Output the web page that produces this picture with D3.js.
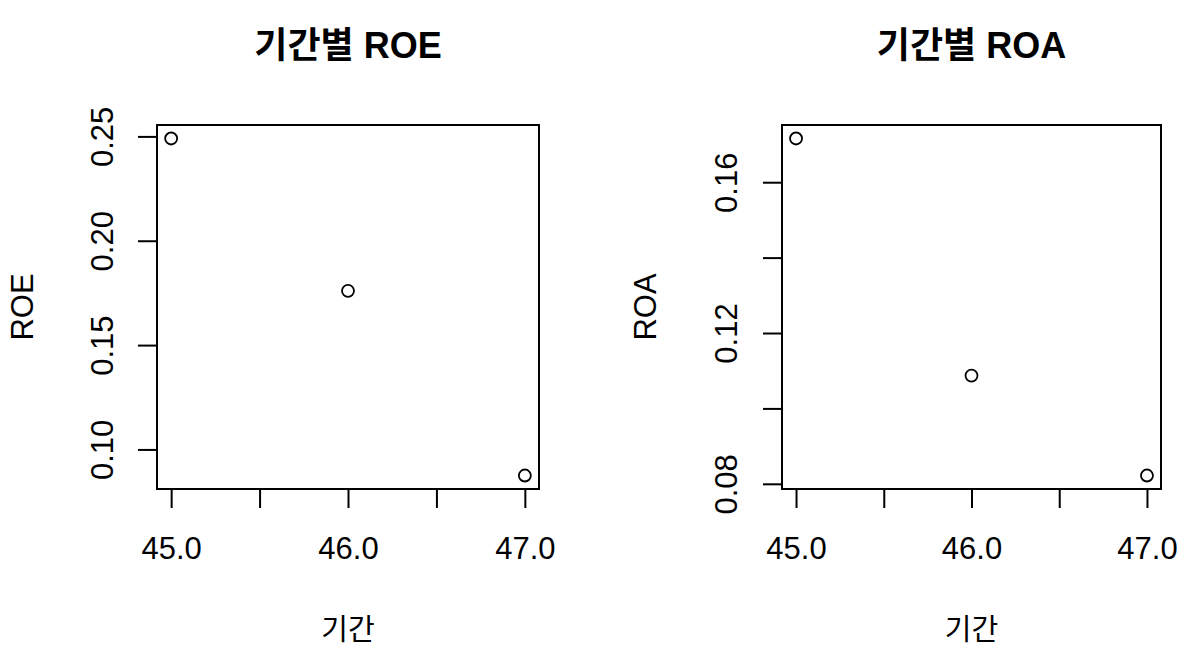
<!DOCTYPE html>
<html><head><meta charset="utf-8">
<script src="https://cdn.jsdelivr.net/npm/d3@7"></script>
<style>
html,body{margin:0;padding:0;background:#fff;}
text{font-family:"Liberation Sans","Noto Sans CJK KR",Arial,sans-serif;fill:#000;}
</style></head>
<body>
<svg id="c" width="1192" height="661"></svg>
<script>
const periods = [45, 46, 47];
const roe = [0.249, 0.176, 0.0875];
const roa = [0.1716, 0.1087, 0.0822];
const xTicks = [45, 45.5, 46, 46.5, 47];
const xTickLabels = ["45.0", "", "46.0", "", "47.0"];
const roeTicks = [0.10, 0.15, 0.20, 0.25];
const roeTickLabels = ["0.10", "0.15", "0.20", "0.25"];
const roaTicks = [0.08, 0.10, 0.12, 0.14, 0.16];
const roaTickLabels = ["0.08", "", "0.12", "", "0.16"];
const titles = ["기간별 ROE", "기간별 ROA"];
const yLabels = ["ROE", "ROA"];
const xLabel = "기간";

const svg = d3.select("#c");
const panels = [
  {title: titles[0], ylab: yLabels[0], vals: roe, ticks: roeTicks, tickLabels: roeTickLabels,
   box: {l: 157, r: 539, t: 125, b: 489}, ytickX: 113, ylabX: 33},
  {title: titles[1], ylab: yLabels[1], vals: roa, ticks: roaTicks, tickLabels: roaTickLabels,
   box: {l: 782, r: 1161, t: 125, b: 489}, ytickX: 737, ylabX: 656}
];

function ext(lo, hi) { const d = (hi - lo) * 0.04; return [lo - d, hi + d]; }

panels.forEach(p => {
  const B = p.box;
  const x = d3.scaleLinear().domain(ext(d3.min(periods), d3.max(periods))).range([B.l, B.r]);
  const y = d3.scaleLinear().domain(ext(d3.min(p.vals), d3.max(p.vals))).range([B.b, B.t]);
  const g = svg.append("g");
  const lw = 2;
  // box
  g.append("rect").attr("x", B.l).attr("y", B.t).attr("width", B.r - B.l).attr("height", B.b - B.t)
    .attr("fill", "none").attr("stroke", "#000").attr("stroke-width", lw);
  // x axis
  const xa = d3.axisBottom(x).tickValues(xTicks).tickSize(19).tickFormat((d, i) => xTickLabels[i]);
  const gx = g.append("g").attr("transform", `translate(0,${B.b})`).call(xa);
  gx.select(".domain").attr("d", `M${x(xTicks[0])},0H${x(xTicks[xTicks.length-1])}`).attr("stroke-width", lw);
  gx.selectAll(".tick line").attr("stroke-width", lw);
  gx.selectAll(".tick text").attr("y", 0).attr("dy", null).attr("transform", "translate(0,70)")
    .style("font-size", "31px").attr("font-family", null);
  // y axis
  const ya = d3.axisLeft(y).tickValues(p.ticks).tickSize(19).tickFormat((d, i) => p.tickLabels[i]);
  const gy = g.append("g").attr("transform", `translate(${B.l},0)`).call(ya);
  gy.select(".domain").attr("d", `M0,${y(p.ticks[0])}V${y(p.ticks[p.ticks.length-1])}`).attr("stroke-width", lw);
  gy.selectAll(".tick line").attr("stroke-width", lw);
  gy.selectAll(".tick text").attr("x", 0).attr("dy", null).attr("text-anchor", "middle")
    .attr("transform", `translate(${p.ytickX - B.l},0) rotate(-90)`)
    .style("font-size", "31px").attr("font-family", null);
  svg.selectAll(".tick text").attr("fill", "#000");
  // points
  g.selectAll("circle").data(periods).join("circle")
    .attr("cx", d => x(d)).attr("cy", (d, i) => y(p.vals[i])).attr("r", 6)
    .attr("fill", "none").attr("stroke", "#000").attr("stroke-width", 1.8);
  const cx = (B.l + B.r) / 2;
  // title
  g.append("text").attr("x", cx).attr("y", 58).attr("text-anchor", "middle")
    .style("font-size", "36px").style("font-weight", "bold").text(p.title);
  // x label
  g.append("text").attr("x", cx).attr("y", 640).attr("text-anchor", "middle")
    .style("font-size", "29px").text(xLabel);
  // y label
  g.append("text").attr("transform", `translate(${p.ylabX},${(B.t + B.b) / 2}) rotate(-90)`)
    .attr("text-anchor", "middle").style("font-size", "31px").text(p.ylab);
});
</script>
</body></html>
